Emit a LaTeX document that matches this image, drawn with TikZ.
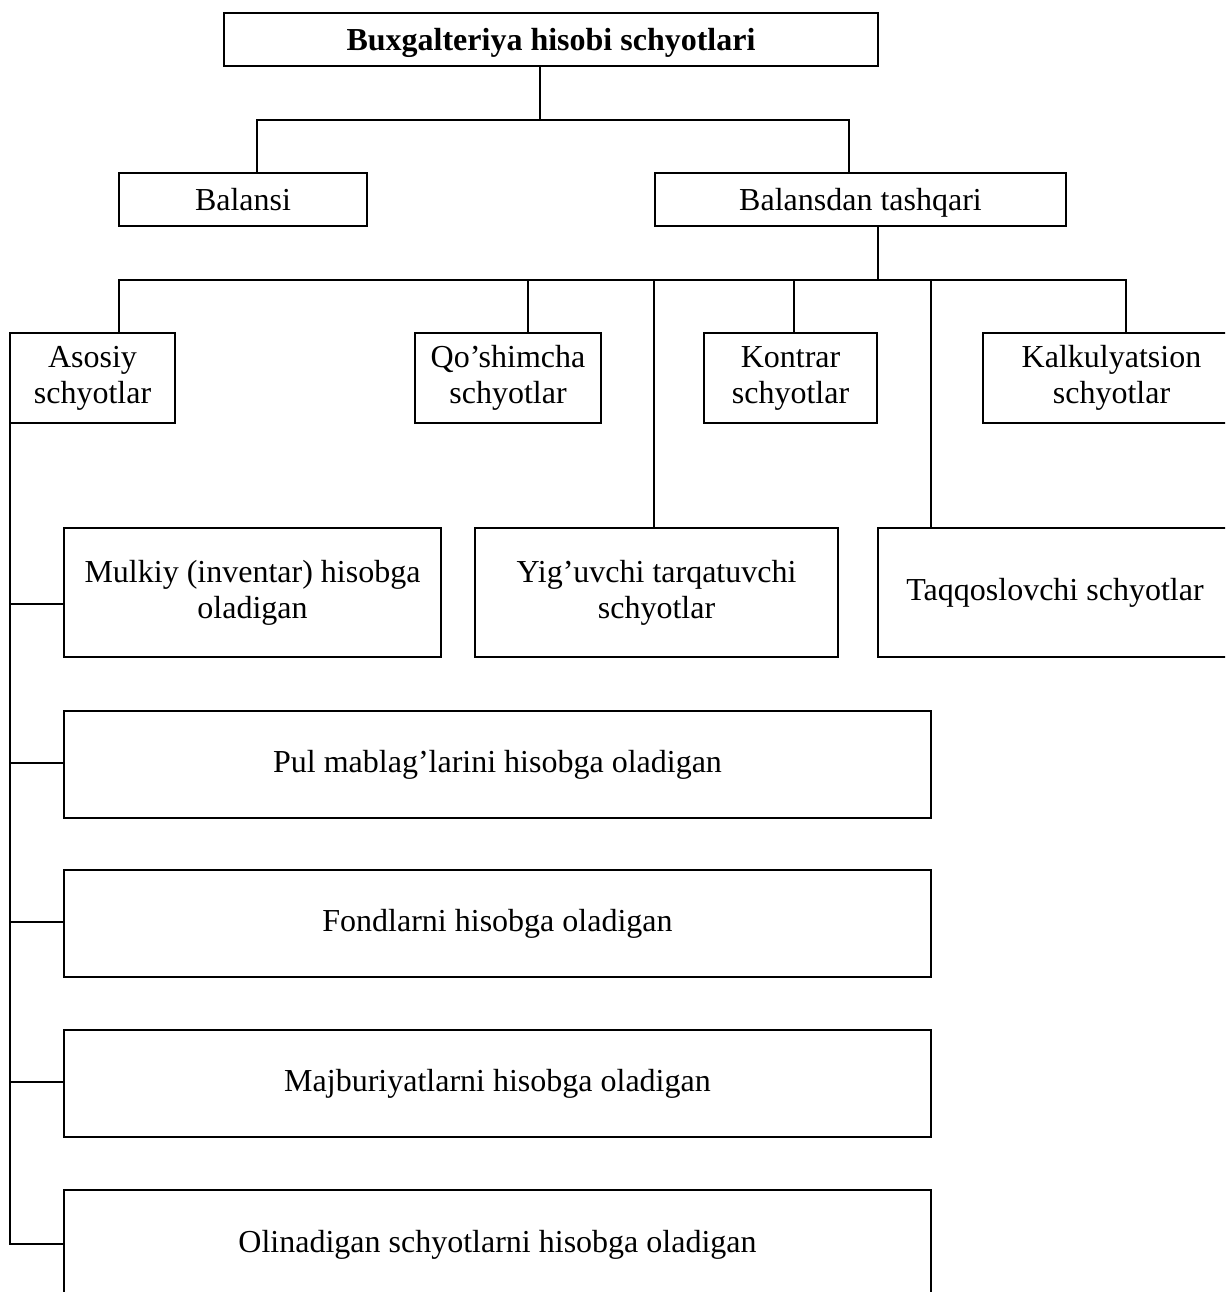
\documentclass[tikz,border=0pt]{standalone}
\usepackage{fontspec}
\setmainfont{Liberation Serif}
\begin{document}
\begin{tikzpicture}[x=0.75pt,y=-0.75pt,
  box/.style={draw, line width=1.4pt, line join=miter, inner sep=0pt, outer sep=0pt, align=center,
    font=\fontsize{24}{27}\selectfont},
  conn/.style={draw, line width=1.4pt, line join=miter}]
\useasboundingbox (0,0) rectangle (1225,1292);
\clip (0,0) rectangle (1225,1292);

% boxes
\node[box, font=\fontsize{24}{27}\selectfont\bfseries, text depth=0pt, minimum width=654*0.75pt, minimum height=53*0.75pt] (top) at (551,39.5) {Buxgalteriya hisobi schyotlari};
\node[box, minimum width=248*0.75pt, minimum height=53*0.75pt] (bal) at (243,199.5) {Balansi};
\node[box, text depth=0pt, minimum width=411*0.75pt, minimum height=53*0.75pt] (bt) at (860.5,199.5) {Balansdan tashqari};

\node[box, minimum width=165*0.75pt, minimum height=90*0.75pt] (aso) at (92.5,378) {Asosiy\\schyotlar};
\node[box, minimum width=186*0.75pt, minimum height=90*0.75pt] (qos) at (508,378) {Qo’shimcha\\schyotlar};
\node[box, minimum width=173*0.75pt, minimum height=90*0.75pt] (kon) at (790.5,378) {Kontrar\\schyotlar};
\node[box, minimum width=257*0.75pt, minimum height=90*0.75pt] (kal) at (1111.5,378) {Kalkulyatsion\\schyotlar};

\node[box, minimum width=377*0.75pt, minimum height=129*0.75pt] (mul) at (252.5,592.5) {Mulkiy (inventar) hisobga\\oladigan};
\node[box, minimum width=363*0.75pt, minimum height=129*0.75pt] (yig) at (656.5,592.5) {Yig’uvchi tarqatuvchi\\schyotlar};
\node[box, minimum width=354*0.75pt, minimum height=129*0.75pt] (taq) at (1055,592.5) {Taqqoslovchi schyotlar};

\node[box, minimum width=867*0.75pt, minimum height=107*0.75pt] (pul) at (497.5,764.5) {Pul mablag’larini hisobga oladigan};
\node[box, minimum width=867*0.75pt, minimum height=107*0.75pt] (fon) at (497.5,923.5) {Fondlarni hisobga oladigan};
\node[box, minimum width=867*0.75pt, minimum height=107*0.75pt] (maj) at (497.5,1083.5) {Majburiyatlarni hisobga oladigan};
\node[box, minimum width=867*0.75pt, minimum height=110*0.75pt] (oli) at (497.5,1245) {Olinadigan schyotlarni hisobga oladigan};

% first level connectors
\coordinate (a1) at (540,120);
\coordinate (a2) at (257,120);
\coordinate (a3) at (849,120);
\draw[conn] (top.south -| a1) -- (a1);
\draw[conn] (bal.north -| a2) -- (a2) -- (a3) -- (bt.north -| a3);

% second level connectors
\coordinate (b0) at (878,280);
\coordinate (bL) at (119,280);
\coordinate (bR) at (1126,280);
\coordinate (bq) at (528,280);
\coordinate (by) at (654,280);
\coordinate (bk) at (794,280);
\coordinate (bt2) at (931,280);
\draw[conn] (bt.south -| b0) -- (b0);
\draw[conn] (aso.north -| bL) -- (bL) -- (bR) -- (kal.north -| bR);
\draw[conn] (bq) -- (qos.north -| bq);
\draw[conn] (by) -- (yig.north -| by);
\draw[conn] (bk) -- (kon.north -| bk);
\draw[conn] (bt2) -- (taq.north -| bt2);

% left spine
\coordinate (s0) at (10,604);
\coordinate (s1) at (10,763);
\coordinate (s2) at (10,922);
\coordinate (s3) at (10,1082);
\coordinate (s4) at (10,1244);
\draw[conn] (aso.south west) -- (s4) -- (oli.west |- s4);
\draw[conn] (s0) -- (mul.west |- s0);
\draw[conn] (s1) -- (pul.west |- s1);
\draw[conn] (s2) -- (fon.west |- s2);
\draw[conn] (s3) -- (maj.west |- s3);
\end{tikzpicture}
\end{document}
